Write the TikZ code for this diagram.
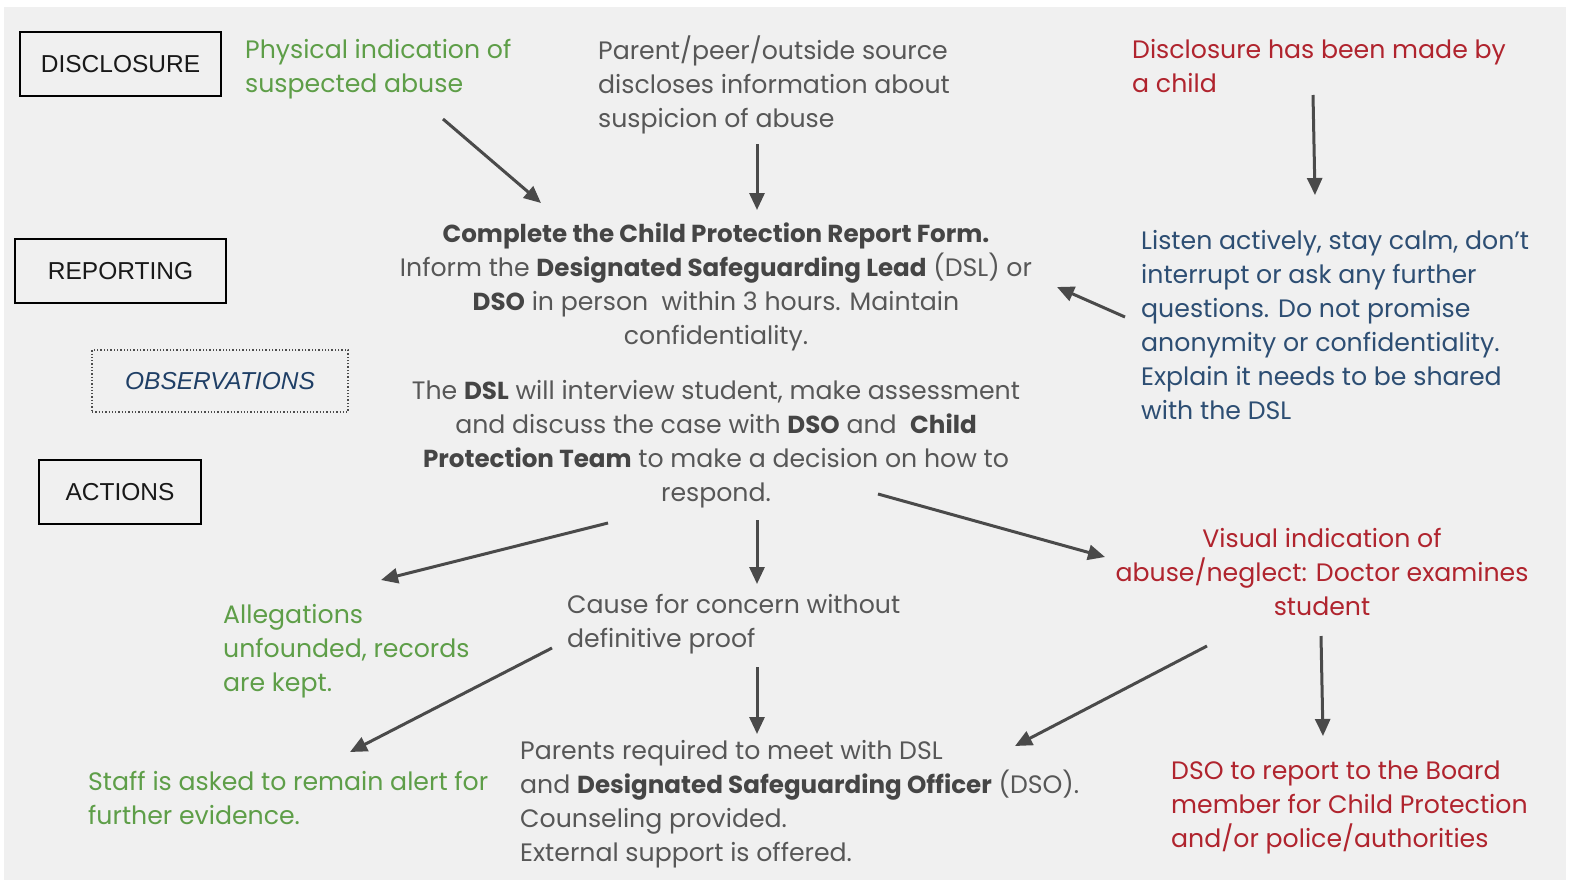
\documentclass[tikz,border=0pt]{standalone}
\usepackage{fontspec}
\setmainfont{Poppins}
\newfontfamily\boxfont{Liberation Sans}
\usetikzlibrary{arrows.meta}
\definecolor{bggray}{HTML}{F0F0F0}
\definecolor{txtgray}{HTML}{575757}
\definecolor{boldgray}{HTML}{454545}
\definecolor{txtgreen}{HTML}{5E9E48}
\definecolor{txtred}{HTML}{B0242E}
\definecolor{txtblue}{HTML}{2D4E73}
\definecolor{obsblue}{HTML}{1F3F66}
\definecolor{arrgray}{HTML}{4A4A4A}
\newcommand{\R}{\rule{0pt}{22pt}}
\newcommand{\B}[1]{{\fontsize{24.6}{34}\selectfont\textcolor{boldgray}{\textbf{#1}}}}
\tikzset{
  txtl/.style={inner sep=0pt, anchor=north west, align=left, font=\fontsize{25.2}{34}\selectfont},
  txtc/.style={inner sep=0pt, anchor=north, align=center, font=\fontsize{25.2}{34}\selectfont},
  stagebox/.style={draw=black, line width=2.2pt, inner sep=0pt, font=\boxfont\fontsize{24.5}{28}\selectfont, text=black!90},
  obsbox/.style={draw=black!70, dotted, line width=1.3pt, inner sep=0pt, font=\boxfont\itshape\fontsize{24.5}{28}\selectfont, text=obsblue},
  flow/.style={draw=arrgray, line width=3pt, -{Triangle[length=17pt,width=15pt]}}
}
\begin{document}
\begin{tikzpicture}[x=1pt,y=-1pt]
\useasboundingbox (0,0) rectangle (1569,884);
\fill[white] (0,0) rectangle (1569,884);
\fill[bggray] (4,7) rectangle (1566,880);

% stage boxes
\node[stagebox, minimum width=201pt, minimum height=64pt] (disc) at (120.5,64) {DISCLOSURE};
\node[stagebox, minimum width=211pt, minimum height=64pt] (rep) at (120.5,271) {REPORTING};
\node[obsbox, minimum width=256pt, minimum height=62pt] (obs) at (220,381) {OBSERVATIONS};
\node[stagebox, minimum width=162pt, minimum height=64pt] (act) at (120,492) {ACTIONS};

% top row
\node[txtl, text=txtgreen] (phys) at (245,36) {\R Physical indication of\\suspected abuse};
\node[txtl, text=txtgray] (parent) at (598,36) {\R Parent/peer/outside source\\discloses information about\\suspicion of abuse};
\node[txtl, text=txtred] (child) at (1132,36) {\R Disclosure has been made by\\a child};

% reporting
\node[txtc, text=txtgray] (report) at (716,220) {\R\B{Complete the Child Protection Report Form.}\\Inform the \B{Designated Safeguarding Lead} (DSL) or\\\B{DSO} in person\ \ within 3 hours. Maintain\\confidentiality.};
\node[txtl, text=txtblue] (listen) at (1141,227) {\R Listen actively, stay calm, don't\\interrupt or ask any further\\questions. Do not promise\\anonymity or confidentiality.\\Explain it needs to be shared\\with the DSL};

% observations
\node[txtc, text=txtgray] (dsl) at (716,377) {\R The \B{DSL} will interview student, make assessment\\and discuss the case with \B{DSO} and\ \ \B{Child}\\\B{Protection Team} to make a decision on how to\\respond.};

% actions
\node[txtl, text=txtgreen] (alleg) at (223,601) {\R Allegations\\unfounded, records\\are kept.};
\node[txtl, text=txtgray] (cause) at (567,591) {\R Cause for concern without\\definitive proof};
\node[txtc, text=txtred] (visual) at (1322,525) {\R Visual indication of\\abuse/neglect: Doctor examines\\student};
\node[txtl, text=txtgreen] (staff) at (88,768) {\R Staff is asked to remain alert for\\further evidence.};
\node[txtl, text=txtgray] (parents) at (520,737) {\R Parents required to meet with DSL\\and \B{Designated Safeguarding Officer} (DSO).\\Counseling provided.\\External support is offered.};
\node[txtl, text=txtred] (dso) at (1171,757) {\R DSO to report to the Board\\member for Child Protection\\and/or police/authorities};

% connector end points
\coordinate (a1s) at (443,119);  \coordinate (a1e) at (541,203);
\coordinate (a2s) at (757,144);  \coordinate (a2e) at (757,210);
\coordinate (a3s) at (1313,95);  \coordinate (a3e) at (1315,195);
\coordinate (a4s) at (1125,317); \coordinate (a4e) at (1057,287);
\coordinate (a5s) at (608,523);  \coordinate (a5e) at (381,580);
\coordinate (a6s) at (757,520);  \coordinate (a6e) at (757,584);
\coordinate (a7s) at (878,494);  \coordinate (a7e) at (1105,557);
\coordinate (a8s) at (552,648);  \coordinate (a8e) at (350,752);
\coordinate (a9s) at (757,667);  \coordinate (a9e) at (757,734);
\coordinate (a10s) at (1207,646); \coordinate (a10e) at (1015,746);
\coordinate (a11s) at (1321,636); \coordinate (a11e) at (1323,736);

\draw[flow] (a1s) -- (a1e);
\draw[flow] (a2s) -- (a2e);
\draw[flow] (a3s) -- (a3e);
\draw[flow] (a4s) -- (a4e);
\draw[flow] (a5s) -- (a5e);
\draw[flow] (a6s) -- (a6e);
\draw[flow] (a7s) -- (a7e);
\draw[flow] (a8s) -- (a8e);
\draw[flow] (a9s) -- (a9e);
\draw[flow] (a10s) -- (a10e);
\draw[flow] (a11s) -- (a11e);
\end{tikzpicture}
\end{document}
